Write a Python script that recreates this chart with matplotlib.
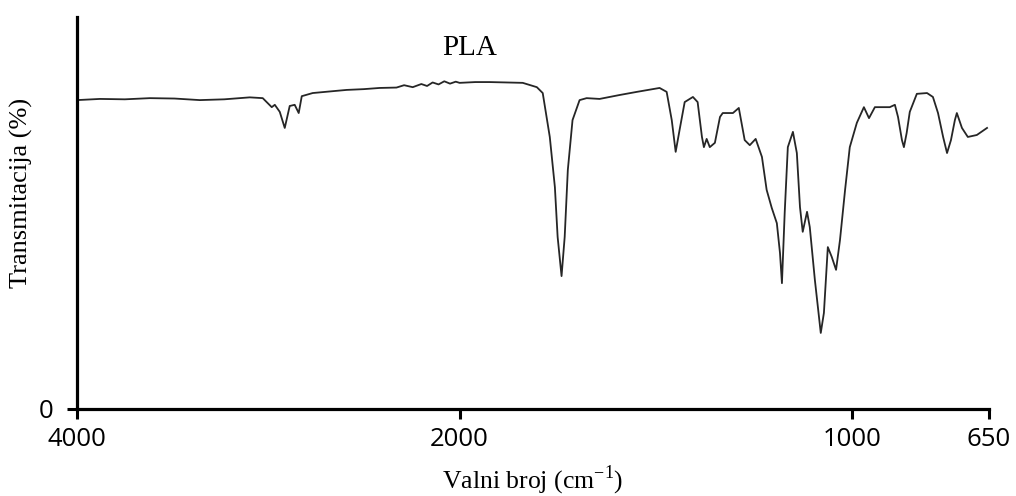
import numpy as np
import matplotlib
matplotlib.use('Agg')
import matplotlib.pyplot as plt

# PLA FTIR spektar (ocitano sa slike)
valni_broj = [4000, 3880, 3750, 3619, 3490, 3358, 3230, 3097, 3029, 2982, 2966, 2940,
              2914, 2888, 2862, 2841, 2825, 2768, 2680, 2590, 2500, 2418, 2330, 2290,
              2245, 2200, 2170, 2141, 2110, 2080, 2050, 2020, 2000, 1960, 1923, 1880,
              1839, 1803, 1788, 1770, 1757, 1750, 1740, 1732, 1724, 1712, 1694, 1676,
              1643, 1592, 1548, 1490, 1472, 1459, 1449, 1439, 1426, 1405, 1393, 1382,
              1377, 1370, 1362, 1349, 1336, 1329, 1303, 1288, 1273, 1260, 1245, 1229,
              1217, 1204, 1191, 1183, 1178, 1171, 1163, 1150, 1140, 1132, 1125, 1114,
              1107, 1094, 1079, 1071, 1061, 1051, 1040, 1030, 1017, 1005, 987, 969,
              956, 941, 903, 890, 882, 872, 867, 860, 852, 834, 808, 793,
              780, 767, 757, 747, 737, 732, 719, 704, 681, 655]
transmitacija = [78.8, 79.1, 79.0, 79.3, 79.2, 78.8, 79.0, 79.5, 79.3, 77.0, 77.6, 75.8,
                 71.7, 77.3, 77.6, 75.5, 79.8, 80.6, 81.0, 81.4, 81.6, 81.9, 82.0, 82.6,
                 82.1, 82.9, 82.4, 83.3, 82.8, 83.6, 83.0, 83.5, 83.2, 83.4, 83.4, 83.3,
                 83.2, 82.1, 80.6, 69.4, 56.6, 43.9, 33.9, 43.9, 61.0, 73.7, 78.8, 79.3,
                 79.1, 80.1, 80.9, 81.9, 80.9, 73.7, 65.6, 71.2, 78.3, 79.6, 78.3, 69.4,
                 66.8, 68.9, 66.8, 67.9, 74.5, 75.5, 75.5, 76.8, 68.6, 67.3, 68.9, 64.3,
                 55.9, 51.3, 47.4, 39.8, 32.1, 50.0, 66.8, 70.7, 65.3, 51.5, 45.2, 50.3,
                 46.4, 32.9, 19.4, 24.5, 41.3, 38.8, 35.5, 43.1, 55.9, 66.8, 73.0, 77.0,
                 74.2, 77.0, 77.0, 77.6, 74.5, 68.6, 66.8, 70.4, 75.8, 80.4, 80.6, 79.6,
                 75.5, 69.4, 65.3, 68.6, 73.7, 75.5, 71.7, 69.4, 69.9, 71.7]

x_ticks = [4000, 2000, 1000, 650]
x_labels = ['4000', '2000', '1000', '650']


# ispod 2000 cm-1 os je rastegnuta
def napred(x):
    x = np.asarray(x, dtype=float)
    return np.where(x >= 2000, x, 2000 - 2.05 * (2000 - x))


def nazad(u):
    u = np.asarray(u, dtype=float)
    return np.where(u >= 2000, u, 2000 - (2000 - u) / 2.05)


fig = plt.figure(figsize=(10.16, 4.96), dpi=100)
ax = fig.add_axes([77 / 1016, 87 / 496, 912 / 1016, 392 / 496])

ax.plot(valni_broj, transmitacija, color='#262626', lw=1.3)

ax.set_xscale('function', functions=(napred, nazad))
ax.set_xlim(4000, 650)
ax.set_ylim(0, 100)

ax.set_xticks(x_ticks)
ax.set_xticklabels(x_labels, fontfamily='Open Sans', fontsize=18.5)
ax.set_yticks([0])
ax.set_yticklabels(['0'], fontfamily='Open Sans', fontsize=18.5)
ax.minorticks_off()
ax.tick_params(axis='x', direction='out', length=7, width=2.2, pad=6)
ax.tick_params(axis='y', direction='out', length=7, width=2.2, pad=10)

for s in ['top', 'right']:
    ax.spines[s].set_visible(False)
for s in ['left', 'bottom']:
    ax.spines[s].set_linewidth(2.3)
    ax.spines[s].set_color('black')

ax.set_xlabel(r'Valni broj (cm$^{\mathregular{-1}}$)', fontfamily='Liberation Serif',
              fontsize=18.5, labelpad=8)
ax.set_ylabel('Transmitacija (%)', fontfamily='Liberation Serif', fontsize=19)
ax.yaxis.set_label_coords(-0.048, 0.55)
ax.text(0.43, 0.92, 'PLA', transform=ax.transAxes, fontfamily='Liberation Serif',
        fontsize=21, ha='center', va='center')

fig.savefig('out.png', dpi=100)
